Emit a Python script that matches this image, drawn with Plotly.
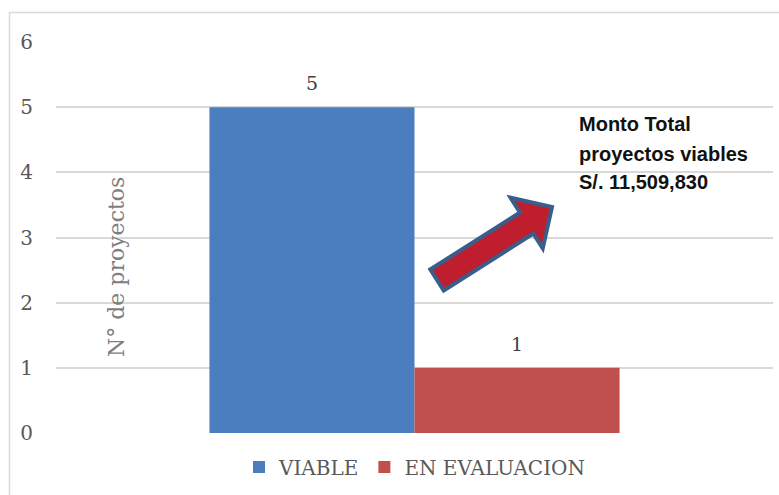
import math
import plotly.graph_objects as go

# Data
categories = ["VIABLE", "EN EVALUACION"]
values = [5, 1]
colors = ["#4A7EBF", "#C0504D"]
y_ticks = [0, 1, 2, 3, 4, 5, 6]
axis_title = "N° de proyectos"
note_lines = ["Monto Total", "proyectos viables", "S/. 11,509,830"]

W, H = 779, 495
ML, MR, MT, MB = 56, 6, 42, 62
PW, PH = W - ML - MR, H - MT - MB

SERIF = "DejaVu Serif"
SANS = "Liberation Sans"


def px(x):
    return (x - ML) / PW


def py(y):
    return (MT + PH - y) / PH


fig = go.Figure()
for name, val, col in zip(categories, values, colors):
    fig.add_trace(go.Bar(
        x=[""], y=[val], name=name, marker=dict(color=col, line=dict(width=0)),
        hoverinfo="skip",
    ))

bargap = 0.428
bar_w = (1 - bargap) / len(categories)
annotations = []
for i, val in enumerate(values):
    xc = -(1 - bargap) / 2 + bar_w * (i + 0.5)
    annotations.append(dict(
        x=xc, y=val, xref="x", yref="y", text=str(val), showarrow=False,
        yshift=24, yanchor="middle", font=dict(family=SERIF, size=19, color="#404040"),
    ))

# vertical axis title drawn inside the plotting area
annotations.append(dict(
    x=px(116), y=py(267), xref="paper", yref="paper", text=axis_title,
    textangle=-90, showarrow=False, xanchor="center", yanchor="middle",
    font=dict(family=SERIF, size=22, color="#7F7F7F"),
))

# note text, one line per annotation
for line, yc in zip(note_lines, [124, 154, 182]):
    annotations.append(dict(
        x=px(577), y=py(yc), xref="paper", yref="paper", text="<b>%s</b>" % line,
        showarrow=False, xanchor="left", yanchor="middle",
        font=dict(family=SANS, size=20, color="#111111"),
    ))

# block arrow pointing at the note
tail = (437.0, 280.0)
tip = (552.0, 207.0)
shaft_w, head_w, head_l = 25.0, 60.0, 30.0
dx, dy = tip[0] - tail[0], tip[1] - tail[1]
L = math.hypot(dx, dy)
ux, uy = dx / L, dy / L
nx, ny = -uy, ux
neck = (tip[0] - ux * head_l, tip[1] - uy * head_l)
pts = [
    (tail[0] + nx * shaft_w / 2, tail[1] + ny * shaft_w / 2),
    (neck[0] + nx * shaft_w / 2, neck[1] + ny * shaft_w / 2),
    (neck[0] + nx * head_w / 2, neck[1] + ny * head_w / 2),
    tip,
    (neck[0] - nx * head_w / 2, neck[1] - ny * head_w / 2),
    (neck[0] - nx * shaft_w / 2, neck[1] - ny * shaft_w / 2),
    (tail[0] - nx * shaft_w / 2, tail[1] - ny * shaft_w / 2),
]
path = "M " + " L ".join("%.5f,%.5f" % (px(a), py(b)) for a, b in pts) + " Z"

shapes = [
    # outer frame
    dict(type="rect", xref="paper", yref="paper", x0=px(9.5), y0=py(12.5),
         x1=px(800), y1=py(520), line=dict(color="#D9D9D9", width=1.5),
         fillcolor="rgba(0,0,0,0)", layer="below"),
    dict(type="path", xref="paper", yref="paper", path=path,
         fillcolor="#BE1E2D", line=dict(color="#3A5E8C", width=4)),
]

fig.update_layout(
    width=W, height=H,
    margin=dict(l=ML, r=MR, t=MT, b=MB, autoexpand=False),
    paper_bgcolor="white", plot_bgcolor="white",
    barmode="group", bargap=bargap, bargroupgap=0,
    showlegend=True,
    legend=dict(orientation="h", x=0.5, xanchor="center", y=py(467), yanchor="middle",
                font=dict(family=SERIF, size=20, color="#595959"),
                itemwidth=30, tracegroupgap=0),
    xaxis=dict(showticklabels=False, showgrid=False, zeroline=False, showline=False,
               ticks="", range=[-0.5, 0.5]),
    yaxis=dict(range=[0, 6], tickvals=y_ticks, showgrid=True, gridcolor="#D9D9D9",
               gridwidth=1.5, zeroline=False, showline=False, ticks="",
               ticklabelstandoff=22,
               tickfont=dict(family=SERIF, size=20, color="#595959")),
    annotations=annotations,
    shapes=shapes,
)

fig.write_html("out.html")
